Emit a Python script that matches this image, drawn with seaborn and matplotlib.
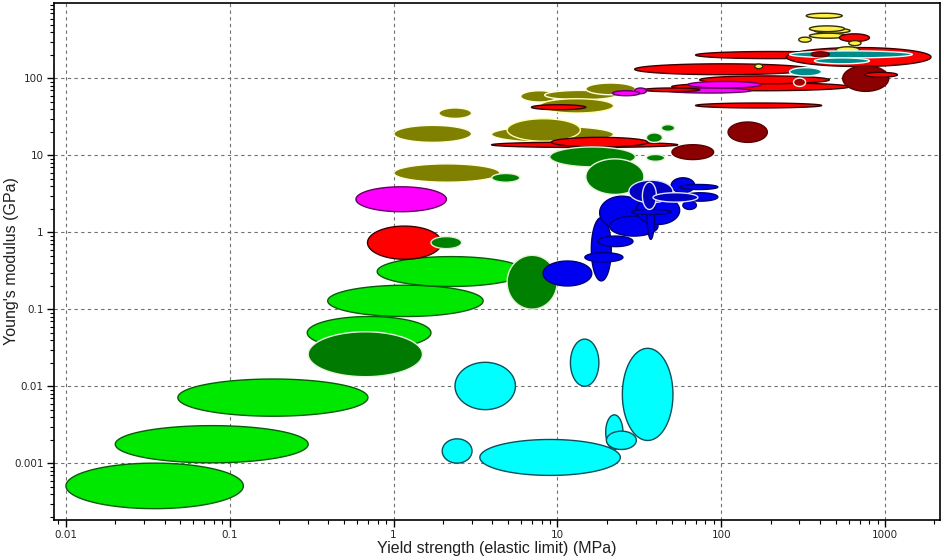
import numpy as np
import matplotlib
matplotlib.use("Agg")
import matplotlib.pyplot as plt
import seaborn as sns
from matplotlib.ticker import FixedLocator, FixedFormatter, LogLocator, NullFormatter

# ---- data: material families with strength (MPa) and modulus (GPa) ranges ----
family = [
    "foam", "foam", "foam", "foam", "natural_l", "foam", "foam", "natural",
    "elastomer", "elastomer", "elastomer", "elastomer", "elastomer", "elastomer", "elastomer",
    "metal", "natural", "polymer_m", "composite", "natural",
    "composite", "composite", "composite", "composite_l", "composite", "composite",
    "composite_l", "composite", "metal", "metal", "metal",
    "natural", "natural_l", "natural", "natural", "natural", "maroon", "maroon",
    "polymer", "polymer", "polymer", "polymer", "polymer", "polymer", "polymer",
    "polymer", "polymer", "polymer", "polymer", "polymer", "polymer",
    "polymer_d", "polymer_d", "polymer_d",
    "metal", "metal", "metal", "polymer_m", "metal", "metal", "polymer_m",
    "polymer_m", "polymer_m", "glass", "maroon_w", "ceramic",
    "metal", "metal", "ceramic", "glass", "glass", "maroon",
    "ceramic", "ceramic", "ceramic", "metal", "ceramic", "ceramic", "ceramic",
    "maroon", "metal",
]
strength_lo = [
    0.01, 0.02, 0.0482, 0.297, 0.301, 0.396, 0.794, 4.93,
    2.37, 12.0, 24.9, 19.7, 19.9, 1.98, 3.36,
    0.693, 1.69, 0.589, 1.004, 3.97,
    1.004, 1.89, 3.96, 4.93, 5.97, 8.36,
    7.80, 14.9, 6.94, 3.96, 9.19,
    8.98, 14.9, 34.9, 34.9, 43.1, 50.0, 110,
    8.17, 16.1, 14.7, 17.7, 18.1, 20.8, 30.3,
    35.2, 28.3, 49.5, 55.7, 58.3, 58.3,
    27.3, 33.0, 38.3,
    69.7, 29.6, 49.8, 46.2, 33.3, 73.8, 62.5,
    29.6, 21.7, 261, 276, 160,
    69.7, 250, 502, 261, 370, 354,
    370, 345, 345, 526, 297, 600, 330,
    551, 747,
]
strength_hi = [
    0.121, 0.301, 0.697, 1.69, 1.50, 3.52, 6.32, 9.95,
    5.54, 17.9, 50.7, 25.1, 30.3, 3.01, 24.2,
    1.96, 2.60, 2.10, 4.45, 5.89,
    2.99, 2.99, 22.0, 13.8, 10.07, 22.9,
    22.0, 29.9, 14.9, 54.2, 35.7,
    29.9, 33.7, 43.7, 45.1, 51.9, 89.8, 191,
    16.2, 21.3, 25.1, 28.9, 34.0, 41.1, 55.7,
    39.2, 49.5, 68.8, 95.3, 95.3, 70.5,
    50.7, 40.2, 72.0,
    410, 355, 606, 152, 73.8, 457, 175,
    34.9, 31.8, 409, 327, 179,
    606, 1906, 697, 1466, 802, 457,
    611, 565, 583, 802, 354, 713, 547,
    1052, 1189,
]
modulus_lo = [
    0.000259, 0.00102, 0.00411, 0.0306, 0.0134, 0.081, 0.199, 0.101,
    0.0050, 0.01007, 0.00199, 0.00152, 0.00152, 0.00101, 0.0007,
    0.449, 0.617, 1.86, 4.50, 4.50,
    14.8, 30.3, 14.8, 15.3, 49.5, 53.0,
    35.6, 61.5, 39.3, 12.7, 12.9,
    7.12, 3.12, 14.8, 8.41, 20.6, 8.85, 14.8,
    0.202, 0.235, 0.414, 0.655, 1.10, 0.898, 1.27,
    0.814, 1.71, 3.28, 3.61, 2.55, 1.99,
    2.43, 1.99, 2.48,
    41.4, 112, 69.3, 64.7, 67.3, 85.3, 75.2,
    63.4, 59.7, 108, 78.8, 134,
    181, 143, 215, 185, 155, 191,
    387, 406, 333, 301, 296, 267, 605,
    68, 104,
]
modulus_hi = [
    0.00101, 0.0031, 0.0125, 0.081, 0.0513, 0.2065, 0.486, 0.505,
    0.0206, 0.0412, 0.0313, 0.00428, 0.00263, 0.00209, 0.00205,
    1.21, 0.883, 3.92, 7.78, 5.83,
    24.6, 41.4, 23.9, 30.0, 69.3, 70.0,
    54.6, 87.2, 45.6, 14.9, 17.2,
    12.9, 9.03, 19.6, 10.3, 25.1, 13.8, 27.2,
    0.426, 1.56, 0.547, 0.898, 2.96, 1.63, 2.96,
    4.20, 1.99, 5.13, 4.20, 3.28, 2.55,
    4.77, 4.50, 3.28,
    48.0, 155, 88.0, 75.2, 75.2, 108, 91.5,
    75.2, 69.3, 138, 101, 154,
    224, 252, 258, 228, 185, 222,
    450, 482, 387, 380, 344, 310, 703,
    147, 120,
]

x_ticks = [0.01, 0.1, 1, 10, 100, 1000]
x_tick_labels = ["0.01", "0.1", "1", "10", "100", "1000"]
y_ticks = [0.001, 0.01, 0.1, 1, 10, 100]
y_tick_labels = ["0.001", "0.01", "0.1", "1", "10", "100"]

# ---- styles ----
palette = {
    "foam": ("#00E800", "#0A5A0A"),
    "natural": ("#008000", "#E8F0D8"),
    "natural_l": ("#007A00", "#E8F5E0"),
    "elastomer": ("#00FFFF", "#0A4F5A"),
    "metal": ("#FF0000", "#3A0000"),
    "maroon": ("#8B0000", "#5A0000"),
    "maroon_w": ("#A00000", "#FFE8E8"),
    "polymer_m": ("#FF00FF", "#600060"),
    "composite": ("#808000", "#FFFFE0"),
    "composite_l": ("#808000", "#FFFFB0"),
    "polymer": ("#0000F0", "#000070"),
    "polymer_d": ("#0000C0", "#E0E0FF"),
    "glass": ("#008B8B", "#E8FFFF"),
    "ceramic": ("#FFF050", "#303000"),
}

sns.set_style("white")
plt.rcParams["font.family"] = ["DejaVu Sans"]

fig = plt.figure(figsize=(9.44, 5.6), dpi=100)
ax = fig.add_axes([53.5 / 944, 40 / 560, (940 - 53.5) / 944, (520 - 2.7) / 560])
ax.set_xscale("log")
ax.set_yscale("log")

t = np.linspace(0, 2 * np.pi, 241)
for fam, a, b, c, d in zip(family, strength_lo, strength_hi, modulus_lo, modulus_hi):
    lx0, lx1 = np.log10(a), np.log10(b)
    ly0, ly1 = np.log10(c), np.log10(d)
    cx, rx = (lx0 + lx1) / 2, (lx1 - lx0) / 2
    cy, ry = (ly0 + ly1) / 2, (ly1 - ly0) / 2
    xs = 10 ** (cx + rx * np.cos(t))
    ys = 10 ** (cy + ry * np.sin(t))
    fc, ec = palette[fam]
    ax.fill(xs, ys, facecolor=fc, edgecolor=ec, lw=1.0, zorder=3)

ax.set_xlim(10 ** -2.076, 10 ** 3.335)
ax.set_ylim(10 ** -3.734, 10 ** 2.984)

ax.xaxis.set_major_locator(FixedLocator(x_ticks))
ax.xaxis.set_major_formatter(FixedFormatter(x_tick_labels))
ax.yaxis.set_major_locator(FixedLocator(y_ticks))
ax.yaxis.set_major_formatter(FixedFormatter(y_tick_labels))
ax.xaxis.set_minor_locator(LogLocator(base=10, subs=np.arange(2, 10)))
ax.yaxis.set_minor_locator(LogLocator(base=10, subs=np.arange(2, 10)))
ax.xaxis.set_minor_formatter(NullFormatter())
ax.yaxis.set_minor_formatter(NullFormatter())

ax.tick_params(which="major", direction="out", length=5, width=1, color="black",
               labelsize=7.5, pad=2, left=True, bottom=True)
ax.tick_params(which="minor", direction="out", length=3, width=0.8, color="black",
               left=True, bottom=True)

ax.grid(True, which="major", color="#707070", linestyle=(0, (3, 3)), linewidth=0.8, zorder=0)
ax.set_axisbelow(True)
for s in ax.spines.values():
    s.set_visible(True)
    s.set_color("black")
    s.set_linewidth(1.2)

ax.set_xlabel("Yield strength (elastic limit) (MPa)", fontsize=11.5, labelpad=1,
              color="#202020", family=["Liberation Sans", "DejaVu Sans"])
ax.set_ylabel("Young's modulus (GPa)", fontsize=11.5,
              color="#202020", family=["Liberation Sans", "DejaVu Sans"])
ax.yaxis.set_label_coords((19 - 53.5) / 886.5, 0.5)

fig.savefig("out.png", dpi=100, facecolor="white")
